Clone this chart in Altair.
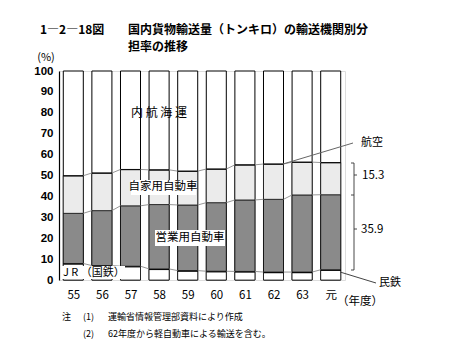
import json
import altair as alt
import pandas as pd

# ---- data ----
years   = ["55", "56", "57", "58", "59", "60", "61", "62", "63", "元"]
jr      = [7.6, 6.6, 6.3, 5.0, 4.2, 3.9, 3.8, 3.5, 3.5, 4.6]
minetsu = [0.3, 0.3, 0.3, 0.3, 0.3, 0.3, 0.3, 0.3, 0.3, 0.3]
eigyo   = [24.0, 26.3, 28.9, 30.8, 31.4, 32.8, 34.2, 34.8, 36.9, 35.9]
jikayo  = [17.9, 17.9, 17.3, 16.5, 16.1, 16.0, 16.7, 16.8, 15.6, 15.3]
koku    = [0.1, 0.1, 0.1, 0.1, 0.1, 0.1, 0.1, 0.1, 0.1, 0.1]
y_ticks = [0, 10, 20, 30, 40, 50, 60, 70, 80, 90, 100]

FONT = "Noto Sans CJK JP"
HALF = 0.35
W, H = 286, 209

seg_names  = ["JR（国鉄）", "民鉄", "営業用自動車", "自家用自動車", "航空"]
seg_values = [jr, minetsu, eigyo, jikayo, koku]
seg_colors = ["#ffffff", "#222222", "#8a8a8a", "#ebebeb", "#222222"]

rows = []
bounds = {n: [] for n in seg_names}
for i, yr in enumerate(years):
    base = 0.0
    for name, vals in zip(seg_names, seg_values):
        top = base + vals[i]
        rows.append(dict(idx=i, year=yr, seg=name, y0=base, y1=top,
                         x0=i - HALF, x1=i + HALF))
        bounds[name].append(top)
        base = top
seg_df = pd.DataFrame(rows)

bar_df = pd.DataFrame({"idx": list(range(len(years))),
                       "x0": [i - HALF for i in range(len(years))],
                       "x1": [i + HALF for i in range(len(years))],
                       "y0": [0] * len(years), "y1": [100] * len(years)})

conn = []
for name in ["民鉄", "営業用自動車", "航空"]:
    b = bounds[name]
    for i in range(len(years) - 1):
        conn.append(dict(x0=i + HALF, x1=i + 1 - HALF, y0=b[i], y1=b[i + 1]))
conn_df = pd.DataFrame(conn)

xscale = alt.Scale(domain=[-0.5, len(years) - 0.5], nice=False, zero=False)
yscale = alt.Scale(domain=[0, 100], nice=False)
label_expr = json.dumps(years, ensure_ascii=False) + "[datum.value]"

x_axis = alt.Axis(values=list(range(len(years))), labelExpr=label_expr, title=None,
                  ticks=False, domain=False, grid=False, labelPadding=9,
                  labelFont=FONT, labelFontSize=11.5, labelColor="#000")
y_axis = alt.Axis(values=y_ticks, title=None, ticks=False, grid=False,
                  domainColor="#000", domainWidth=1.2, labelPadding=6,
                  labelFont="Liberation Sans", labelFontSize=11.5, labelColor="#000",
                  labelFontWeight="bold")


def enc(ch):
    return ch.encode(
        x=alt.X("x0:Q", scale=xscale, axis=x_axis, title=None),
        x2="x1:Q",
        y=alt.Y("y0:Q", scale=yscale, axis=y_axis, title=None),
        y2="y1:Q",
    )


bars = enc(alt.Chart(bar_df).mark_rect(fill="white", stroke="black", strokeWidth=1))

segs = enc(alt.Chart(seg_df).mark_rect(stroke="black", strokeWidth=0.7)).encode(
    fill=alt.Fill("seg:N", scale=alt.Scale(domain=seg_names, range=seg_colors), legend=None),
)

lines = enc(alt.Chart(conn_df).mark_rule(color="#8a8a8a", strokeWidth=0.9))

one = pd.DataFrame({"a": [0]})


def txt(text, x, y, size=11, align="center", weight="normal", baseline="middle"):
    return alt.Chart(one).mark_text(text=text, font=FONT, fontSize=size, align=align,
                                    baseline=baseline, fontWeight=weight, color="#000").encode(
        x=alt.value(x), y=alt.value(y))


def seg(x1, y1, x2, y2, color="#000", w=0.9):
    return alt.Chart(one).mark_rule(color=color, strokeWidth=w).encode(
        x=alt.value(x1), y=alt.value(y1), x2=alt.value(x2), y2=alt.value(y2))


def box(x1, y1, x2, y2):
    return alt.Chart(one).mark_rect(fill="white").encode(
        x=alt.value(x1), y=alt.value(y1), x2=alt.value(x2), y2=alt.value(y2))


annots = [
    # in-chart labels
    txt("内 航 海 運", 100, 42, 12),
    box(72, 109, 137, 124), txt("自家用自動車", 104, 116, 11.5),
    box(96, 159, 166, 175), txt("営業用自動車", 131, 167, 11.5),
    box(3, 195, 66, 208), txt("J R （国鉄）", 4, 202, 11, align="left"),
    # 航空 leader
    seg(224, 93, 294, 72, "#666", 1), txt("航空", 313, 72, 11),
    # brace
    seg(295, 92, 295, 199, "#333", 0.9),
    seg(292, 92, 295, 92, "#333", 0.9), seg(295, 104, 298, 104, "#333", 0.9),
    seg(292, 124, 295, 124, "#333", 0.9), seg(295, 158, 298, 158, "#333", 0.9),
    seg(292, 199, 295, 199, "#333", 0.9),
    txt("15.3", 303, 105, 11.5, align="left"),
    txt("35.9", 302, 159, 11.5, align="left"),
    # 民鉄 leader
    seg(281, 201, 317, 212, "#444", 1), txt("民鉄", 320, 212, 11, align="left"),
    # axis extras
    txt("(%)", -13, -13, 11),
    txt("（年度）", 278, 225, 11.5, align="left", baseline="top"),
    # title
    txt("1―2―18図", -19, -41, 12, align="left", weight="bold"),
    txt("国内貨物輸送量（トンキロ）の輸送機関別分", 69, -41, 12, align="left", weight="bold"),
    txt("担率の推移", 69, -24, 12, align="left", weight="bold"),
    # notes
    txt("注", 3, 246, 9, align="left"),
    txt("(1)", 24, 246, 9, align="left"),
    txt("運輸省情報管理部資料により作成", 49, 246, 9, align="left"),
    txt("(2)", 24, 263, 9, align="left"),
    txt("62年度から軽自動車による輸送を含む。", 49, 263, 9, align="left"),
]

chart = alt.layer(bars, segs, lines, *annots).properties(
    width=W, height=H,
    autosize=alt.AutoSizeParams(type="none"),
    padding={"left": 51, "top": 63, "right": 98, "bottom": 70},
).configure_view(stroke="#999", strokeWidth=0.8).configure(background="white")

chart.save("out.html", embed_options={"renderer": "svg", "actions": False})
